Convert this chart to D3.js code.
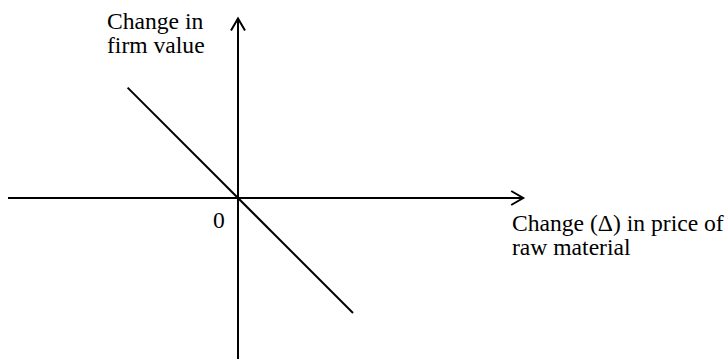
<!DOCTYPE html>
<html>
<head>
<meta charset="utf-8">
<script src="https://cdn.jsdelivr.net/npm/d3@7"></script>
<style>
  body { margin: 0; background: #fff; }
  text { font-family: "Liberation Serif", "Times New Roman", serif; font-size: 23.6px; fill: #000; }
</style>
</head>
<body>
<div id="chart"></div>
<script>
// axis extents (data units, origin at 0,0)
var xAxisExtent = [-10, 12.4];
var yAxisExtent = [-7, 7.8];

// the sloping line
var lineX = [-4.8, 5];
var lineY = [4.8, -5];

// labels
var originLabel = "0";
var yTitle = ["Change in", "firm value"];
var xTitle = ["Change (\u0394) in price of", "raw material"];

var svg = d3.select("#chart")
    .append("svg")
    .attr("width", 727)
    .attr("height", 359);

// 1 unit = 23px, origin at (238,198)
var xScale = d3.scaleLinear().domain([0, 10]).range([238, 468]);
var yScale = d3.scaleLinear().domain([0, 10]).range([198, -32]);

// horizontal axis
svg.append("line")
    .attr("x1", xScale(xAxisExtent[0])).attr("y1", yScale(0))
    .attr("x2", xScale(xAxisExtent[1])).attr("y2", yScale(0))
    .attr("stroke", "#000").attr("stroke-width", 2);

// vertical axis
svg.append("line")
    .attr("x1", xScale(0)).attr("y1", yScale(yAxisExtent[0]))
    .attr("x2", xScale(0)).attr("y2", yScale(yAxisExtent[1]))
    .attr("stroke", "#000").attr("stroke-width", 2);

// open arrow heads
var xTip = [xScale(xAxisExtent[1]), yScale(0)];
svg.append("path")
    .attr("d", "M" + (xTip[0] - 12) + "," + (xTip[1] - 7) + "L" + xTip[0] + "," + xTip[1] + "L" + (xTip[0] - 12) + "," + (xTip[1] + 7))
    .attr("fill", "none").attr("stroke", "#000").attr("stroke-width", 2);

var yTip = [xScale(0), yScale(yAxisExtent[1])];
svg.append("path")
    .attr("d", "M" + (yTip[0] - 7) + "," + (yTip[1] + 12) + "L" + yTip[0] + "," + yTip[1] + "L" + (yTip[0] + 7) + "," + (yTip[1] + 12))
    .attr("fill", "none").attr("stroke", "#000").attr("stroke-width", 2);

// sloping line
var line = d3.line()
    .x(function(d) { return xScale(d[0]); })
    .y(function(d) { return yScale(d[1]); });

svg.append("path")
    .datum(d3.zip(lineX, lineY))
    .attr("d", line)
    .attr("fill", "none")
    .attr("stroke", "#000")
    .attr("stroke-width", 2);

// origin label
svg.append("text").text(originLabel).attr("x", 213).attr("y", 228);

// y title
svg.selectAll(".ytitle")
    .data(yTitle)
    .enter()
    .append("text")
    .attr("class", "ytitle")
    .attr("x", 107)
    .attr("y", function(d, i) { return 29 + i * 24; })
    .text(function(d) { return d; });

// x title
svg.selectAll(".xtitle")
    .data(xTitle)
    .enter()
    .append("text")
    .attr("class", "xtitle")
    .attr("x", 512)
    .attr("y", function(d, i) { return 231 + i * 24; })
    .text(function(d) { return d; });
</script>
</body>
</html>
